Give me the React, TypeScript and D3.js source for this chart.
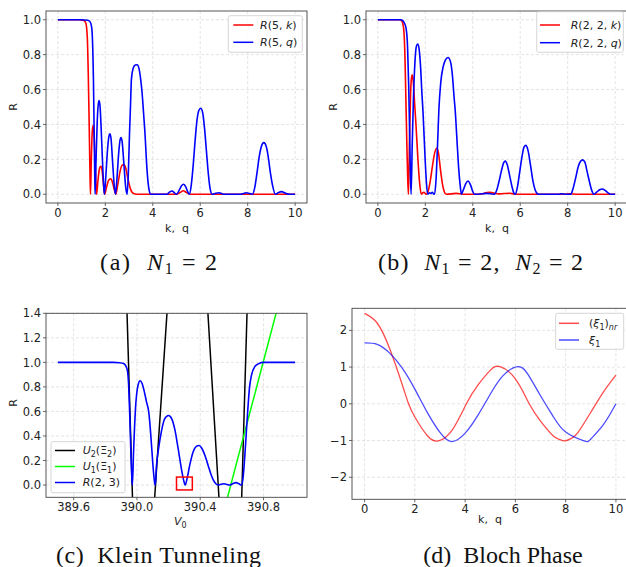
import React from "react";
import * as d3 from "d3";

type P = [number, number];

// (a) N1 = 2
const redA: P[] = [
  [0, 1], [0.9, 1], [1.1, 0.995], [1.18, 0.98], [1.24, 0.9], [1.28, 0.7], [1.32, 0.4], [1.35, 0.15], [1.375, 0],
  [1.41, 0.2], [1.45, 0.36], [1.49, 0.395], [1.53, 0.33], [1.58, 0.15], [1.63, 0],
  [1.69, 0.08], [1.75, 0.145], [1.81, 0.16], [1.87, 0.13], [1.92, 0.06], [1.97, 0],
  [2.05, 0.04], [2.14, 0.08], [2.23, 0.088], [2.31, 0.065], [2.38, 0.025], [2.44, 0],
  [2.53, 0.06], [2.62, 0.13], [2.7, 0.165], [2.78, 0.17], [2.86, 0.15], [2.95, 0.09], [3.05, 0.035], [3.17, 0.006], [3.35, 0],
  [5.0, 0], [5.15, 0.01], [5.28, 0.02], [5.42, 0.01], [5.6, 0], [10, 0],
];
const blueA: P[] = [
  [0, 1], [1.0, 1], [1.25, 0.997], [1.35, 0.99], [1.42, 0.96], [1.46, 0.88], [1.5, 0.65], [1.53, 0.35], [1.555, 0.1], [1.57, 0],
  [1.61, 0.2], [1.66, 0.42], [1.7, 0.51], [1.74, 0.537], [1.78, 0.5], [1.83, 0.36], [1.89, 0.16], [1.93, 0.05], [1.96, 0],
  [2.02, 0.1], [2.09, 0.25], [2.15, 0.33], [2.19, 0.346], [2.24, 0.32], [2.3, 0.2], [2.37, 0.06], [2.43, 0],
  [2.49, 0.09], [2.56, 0.23], [2.62, 0.31], [2.66, 0.325], [2.71, 0.3], [2.78, 0.18], [2.86, 0.04], [2.92, 0],
  [2.97, 0.12], [3.02, 0.35], [3.06, 0.5], [3.1, 0.66], [3.17, 0.72], [3.26, 0.74], [3.34, 0.742], [3.42, 0.72], [3.48, 0.67],
  [3.55, 0.58], [3.62, 0.45], [3.68, 0.33], [3.73, 0.2], [3.8, 0.07], [3.86, 0.015], [3.9, 0],
  [4.6, 0], [4.7, 0.012], [4.81, 0.019], [4.9, 0.01], [5.0, 0],
  [5.12, 0.025], [5.22, 0.05], [5.3, 0.057], [5.4, 0.04], [5.48, 0.012], [5.54, 0],
  [5.62, 0.05], [5.7, 0.16], [5.78, 0.3], [5.86, 0.42], [5.94, 0.48], [6.02, 0.493], [6.1, 0.47], [6.18, 0.38], [6.26, 0.25],
  [6.34, 0.12], [6.42, 0.03], [6.51, 0], [6.65, 0.006], [6.8, 0.009], [6.92, 0.003], [7.0, 0],
  [7.7, 0], [7.82, 0.005], [7.94, 0.009], [8.08, 0.004], [8.2, 0],
  [8.3, 0.04], [8.4, 0.13], [8.48, 0.21], [8.58, 0.275], [8.68, 0.296], [8.78, 0.275], [8.86, 0.22], [8.95, 0.13], [9.05, 0.05], [9.17, 0],
  [9.3, 0.01], [9.43, 0.015], [9.58, 0.007], [9.76, 0], [10, 0],
];

// (b) N1 = 2, N2 = 2
const redB: P[] = [
  [0, 1], [0.9, 1], [0.98, 0.997], [1.05, 0.98], [1.1, 0.93], [1.14, 0.8], [1.18, 0.55], [1.22, 0.3], [1.26, 0.08], [1.29, 0],
  [1.33, 0.3], [1.38, 0.58], [1.42, 0.67], [1.45, 0.684], [1.49, 0.65], [1.55, 0.52], [1.61, 0.39], [1.68, 0.22], [1.75, 0.08], [1.83, 0],
  [1.89, 0.008], [1.94, 0.012], [1.99, 0.005], [2.03, 0],
  [2.1, 0.01], [2.2, 0.07], [2.31, 0.17], [2.4, 0.24], [2.48, 0.264], [2.55, 0.24], [2.64, 0.14], [2.72, 0.06], [2.8, 0.015], [2.88, 0],
  [3.3, 0.005], [3.6, 0], [4.3, 0], [4.55, 0.008], [4.7, 0.012], [4.85, 0.008], [5.1, 0.002], [5.3, 0.004], [5.54, 0.006],
  [5.75, 0.002], [6.0, 0], [7.8, 0], [8.1, 0.003], [8.4, 0], [10, 0],
];
const blueB: P[] = [
  [0, 1], [0.95, 1], [1.05, 0.995], [1.12, 0.98], [1.19, 0.95], [1.25, 0.85], [1.3, 0.62], [1.34, 0.35], [1.37, 0.12], [1.4, 0],
  [1.45, 0.3], [1.5, 0.55], [1.56, 0.75], [1.62, 0.845], [1.68, 0.86], [1.74, 0.83], [1.8, 0.73], [1.86, 0.57], [1.9, 0.48],
  [1.95, 0.33], [2.0, 0.18], [2.05, 0.06], [2.1, 0],
  [2.18, 0.008], [2.24, 0.004], [2.29, 0.012], [2.34, 0.004], [2.39, 0],
  [2.45, 0.08], [2.52, 0.3], [2.57, 0.48], [2.65, 0.64], [2.75, 0.73], [2.85, 0.77], [2.96, 0.784], [3.06, 0.76], [3.15, 0.67],
  [3.21, 0.56], [3.26, 0.48], [3.33, 0.32], [3.4, 0.16], [3.47, 0.05], [3.52, 0],
  [3.6, 0.025], [3.7, 0.06], [3.8, 0.076], [3.9, 0.055], [4.0, 0.015], [4.08, 0],
  [4.4, 0.003], [4.6, 0.005], [4.8, 0.002], [4.91, 0],
  [5.0, 0.02], [5.1, 0.07], [5.2, 0.13], [5.3, 0.18], [5.37, 0.19], [5.45, 0.17], [5.55, 0.11], [5.65, 0.045], [5.73, 0.008], [5.79, 0],
  [5.88, 0.04], [5.98, 0.13], [6.08, 0.22], [6.16, 0.27], [6.24, 0.28], [6.33, 0.25], [6.43, 0.17], [6.53, 0.08], [6.63, 0.025],
  [6.72, 0.004], [6.77, 0], [7.6, 0], [7.75, 0.003], [7.9, 0], [8.13, 0],
  [8.22, 0.03], [8.33, 0.09], [8.45, 0.16], [8.55, 0.19], [8.63, 0.197], [8.72, 0.185], [8.82, 0.13], [8.92, 0.07], [9.02, 0.02], [9.1, 0],
  [9.22, 0.012], [9.35, 0.026], [9.47, 0.03], [9.58, 0.022], [9.7, 0.008], [9.82, 0], [10, 0],
];

// (c) Klein tunneling
const blueC: P[] = [
  [389.5, 1], [389.85, 1], [389.89, 0.997], [389.915, 0.99], [389.93, 0.97], [389.94, 0.93], [389.948, 0.8], [389.955, 0.55],
  [389.962, 0.25], [389.968, 0.05], [389.971, 0],
  [389.978, 0.25], [389.985, 0.48], [389.99, 0.61], [389.998, 0.74], [390.008, 0.82], [390.02, 0.85], [390.032, 0.83],
  [390.045, 0.77], [390.06, 0.68], [390.074, 0.6], [390.085, 0.45], [390.095, 0.27], [390.105, 0.1], [390.113, 0.01], [390.116, 0],
  [390.123, 0.15], [390.137, 0.3], [390.155, 0.44], [390.175, 0.54], [390.2, 0.567], [390.22, 0.54], [390.24, 0.45],
  [390.26, 0.3], [390.28, 0.14], [390.295, 0.04], [390.305, 0],
  [390.318, 0.06], [390.335, 0.17], [390.355, 0.27], [390.375, 0.315], [390.392, 0.322], [390.41, 0.3], [390.43, 0.24],
  [390.45, 0.16], [390.47, 0.08], [390.49, 0.025], [390.513, 0],
  [390.53, 0.006], [390.55, 0.01], [390.57, 0.005], [390.587, 0], [390.607, 0.012], [390.627, 0.02], [390.645, 0.01], [390.66, 0],
  [390.67, 0.05], [390.68, 0.2], [390.69, 0.4], [390.7, 0.6], [390.712, 0.8], [390.725, 0.9], [390.745, 0.965], [390.77, 0.99],
  [390.8, 1], [391, 1],
];
const blackC: P[] = [
  [389.935, 1.5], [389.974, -0.2], [390.107, -0.2], [390.195, 1.5],
  [390.444, 1.5], [390.523, -0.2], [390.66, -0.2], [390.698, 1.5],
];
const greenC: P[] = [[390.552, -0.2], [390.9, 1.5]];
const boxC = { x0: 390.25, x1: 390.35, y0: -0.04, y1: 0.065 };

// (d) Bloch phase
const redD: P[] = [
  [0, 2.46], [0.5, 2.2], [1.0, 1.5], [1.5, 0.52], [1.75, 0], [2.0, -0.36], [2.5, -0.87], [2.94, -1.01], [3.5, -0.7],
  [4.05, 0], [4.5, 0.5], [5.0, 0.91], [5.39, 1.01], [6.0, 0.68], [6.55, 0], [7.0, -0.47], [7.5, -0.87], [7.75, -0.97],
  [7.97, -1.01], [8.25, -0.93], [8.5, -0.77], [9.0, -0.23], [9.5, 0.32], [10, 0.78],
];
const blueD: P[] = [
  [0, 1.66], [0.5, 1.62], [1.0, 1.38], [1.5, 0.97], [2.0, 0.4], [2.5, -0.24], [3.0, -0.78], [3.47, -1.03], [4.0, -0.8],
  [4.5, -0.32], [5.0, 0.26], [5.5, 0.76], [6.09, 1.01], [6.5, 0.8], [7.0, 0.22], [7.5, -0.34], [8.0, -0.77], [8.73, -1.01],
  [9.0, -0.96], [9.5, -0.57], [10, 0],
];

const kTicks = [0, 2, 4, 6, 8, 10];
const rTicks = [0, 0.2, 0.4, 0.6, 0.8, 1.0];
const vTicks = [389.6, 390.0, 390.4, 390.8];
const rTicksC = [0, 0.2, 0.4, 0.6, 0.8, 1.0, 1.2, 1.4];
const phaseTicks = [-2, -1, 0, 1, 2];

const FONT = "DejaVu Sans";
const SERIF = "Liberation Serif";

type Box = { l: number; r: number; t: number; b: number };
type Series = { data: P[]; color: string; width: number; curve: d3.CurveFactory; opacity?: number };

const minus = (s: string) => s.replace("-", "\u2212");

function Panel(props: {
  id: string;
  box: Box;
  xDomain: [number, number];
  yDomain: [number, number];
  xTicks: number[];
  yTicks: number[];
  xFmt: (v: number) => string;
  yFmt: (v: number) => string;
  series: Series[];
  extra?: (x: d3.ScaleLinear<number, number>, y: d3.ScaleLinear<number, number>) => React.ReactNode;
}) {
  const { id, box, xDomain, yDomain, xTicks, yTicks, xFmt, yFmt, series, extra } = props;
  const x = d3.scaleLinear().domain(xDomain).range([box.l, box.r]);
  const y = d3.scaleLinear().domain(yDomain).range([box.b, box.t]);
  return (
    <g>
      <defs>
        <clipPath id={id}>
          <rect x={box.l} y={box.t} width={box.r - box.l} height={box.b - box.t} />
        </clipPath>
      </defs>
      {xTicks.map((t) => (
        <line key={"gx" + t} x1={x(t)} x2={x(t)} y1={box.t} y2={box.b} stroke="#d8d8d8" strokeWidth={0.7} strokeDasharray="3,2" />
      ))}
      {yTicks.map((t) => (
        <line key={"gy" + t} x1={box.l} x2={box.r} y1={y(t)} y2={y(t)} stroke="#d8d8d8" strokeWidth={0.7} strokeDasharray="3,2" />
      ))}
      <g clipPath={`url(#${id})`}>
        {series.map((s, i) => {
          const line = d3.line<P>().x((d) => x(d[0])).y((d) => y(d[1])).curve(s.curve);
          return (
            <path key={i} d={line(s.data) || ""} fill="none" stroke={s.color} strokeWidth={s.width}
              strokeOpacity={s.opacity ?? 1} strokeLinejoin="round" />
          );
        })}
        {extra && extra(x, y)}
      </g>
      <rect x={box.l} y={box.t} width={box.r - box.l} height={box.b - box.t} fill="none" stroke="#444" strokeWidth={0.9} />
      {xTicks.map((t) => (
        <g key={"tx" + t}>
          <line x1={x(t)} x2={x(t)} y1={box.b} y2={box.b + 3} stroke="#444" strokeWidth={0.8} />
          <text x={x(t)} y={box.b + 14} textAnchor="middle" fontFamily={FONT} fontSize={11.5} fill="#222">
            {xFmt(t)}
          </text>
        </g>
      ))}
      {yTicks.map((t) => (
        <g key={"ty" + t}>
          <line x1={box.l - 3} x2={box.l} y1={y(t)} y2={y(t)} stroke="#444" strokeWidth={0.8} />
          <text x={box.l - 5} y={y(t)} dy="0.36em" textAnchor="end" fontFamily={FONT} fontSize={11.5} fill="#222">
            {yFmt(t)}
          </text>
        </g>
      ))}
    </g>
  );
}

function Legend(props: {
  x: number; y: number; w: number; h: number;
  lx: number; tx: number;
  rows: { y: number; color: string; opacity?: number; label: React.ReactNode }[];
}) {
  const { x, y, w, h, lx, tx, rows } = props;
  return (
    <g>
      <rect x={x} y={y} width={w} height={h} rx={2} fill="white" fillOpacity={0.85} stroke="#cccccc" strokeWidth={0.8} />
      {rows.map((r, i) => (
        <g key={i}>
          <line x1={lx} x2={lx + 20} y1={r.y} y2={r.y} stroke={r.color} strokeOpacity={r.opacity ?? 1} strokeWidth={1.5} />
          <text x={tx} y={r.y} dy="0.35em" fontFamily={FONT} fontSize={11} fill="#222">
            {r.label}
          </text>
        </g>
      ))}
    </g>
  );
}

const It = (p: { children: React.ReactNode }) => <tspan fontStyle="italic">{p.children}</tspan>;

const f1 = d3.format(".1f");
const fInt = (v: number) => minus(String(v));

export default function App() {
  const mono = d3.curveMonotoneX;
  const boxA: Box = { l: 46, r: 307, t: 11, b: 203 };
  const boxB: Box = { l: 366, r: 627, t: 11, b: 203 };
  const boxCc: Box = { l: 46, r: 307, t: 313.3, b: 497.3 };
  const boxD: Box = { l: 352, r: 628.5, t: 308.3, b: 499.3 };

  return (
    <svg width={626} height={567} style={{ position: "absolute", left: 0, top: 0, background: "white" }}>
      <rect width={626} height={567} fill="white" />
      {/* (a) */}
      <Panel id="ca" box={boxA} xDomain={[-0.5, 10.5]} yDomain={[-0.05, 1.05]} xTicks={kTicks} yTicks={rTicks}
        xFmt={(v) => String(v)} yFmt={f1}
        series={[
          { data: redA, color: "red", width: 1.6, curve: mono },
          { data: blueA, color: "blue", width: 1.6, curve: mono },
        ]} />
      <Legend x={228.3} y={15.7} w={74} h={36.6} lx={233.3} tx={260}
        rows={[
          { y: 25, color: "red", label: <><It>R</It>(5, <It>k</It>)</> },
          { y: 42.3, color: "blue", label: <><It>R</It>(5, <It>q</It>)</> },
        ]} />
      <text x={13} y={107} transform="rotate(-90 13 107)" dy="0.35em" textAnchor="middle" fontFamily={FONT} fontSize={11} fill="#222">R</text>
      <text x={177} y={232} textAnchor="middle" fontFamily={FONT} fontSize={11} fill="#222" xmlSpace="preserve">k,  q</text>

      {/* (b) */}
      <Panel id="cb" box={boxB} xDomain={[-0.5, 10.5]} yDomain={[-0.05, 1.05]} xTicks={kTicks} yTicks={rTicks}
        xFmt={(v) => String(v)} yFmt={f1}
        series={[
          { data: redB, color: "red", width: 1.6, curve: mono },
          { data: blueB, color: "blue", width: 1.6, curve: mono },
        ]} />
      <Legend x={536.7} y={11.7} w={86.6} h={40.6} lx={540} tx={570.7}
        rows={[
          { y: 25, color: "red", label: <><It>R</It>(2, 2, <It>k</It>)</> },
          { y: 42.7, color: "blue", label: <><It>R</It>(2, 2, <It>q</It>)</> },
        ]} />
      <text x={333} y={107} transform="rotate(-90 333 107)" dy="0.35em" textAnchor="middle" fontFamily={FONT} fontSize={11} fill="#222">R</text>
      <text x={497} y={232} textAnchor="middle" fontFamily={FONT} fontSize={11} fill="#222" xmlSpace="preserve">k,  q</text>

      {/* (c) */}
      <Panel id="cc" box={boxCc} xDomain={[389.425, 391.075]} yDomain={[-0.1, 1.4]} xTicks={vTicks} yTicks={rTicksC}
        xFmt={f1} yFmt={f1}
        series={[
          { data: blackC, color: "black", width: 1.5, curve: d3.curveLinear },
          { data: greenC, color: "#00ff00", width: 1.5, curve: d3.curveLinear },
          { data: blueC, color: "blue", width: 1.6, curve: mono },
        ]}
        extra={(x, y) => (
          <rect x={x(boxC.x0)} y={y(boxC.y1)} width={x(boxC.x1) - x(boxC.x0)} height={y(boxC.y0) - y(boxC.y1)}
            fill="none" stroke="red" strokeWidth={1.5} />
        )} />
      <Legend x={51} y={441.7} w={74} h={51} lx={55} tx={82.7}
        rows={[
          { y: 450.5, color: "black", label: <><It>U</It><tspan fontSize={8} dy={3}>2</tspan><tspan dy={-3}>(Ξ</tspan><tspan fontSize={8} dy={3}>2</tspan><tspan dy={-3}>)</tspan></> },
          { y: 466.5, color: "#00ff00", label: <><It>U</It><tspan fontSize={8} dy={3}>1</tspan><tspan dy={-3}>(Ξ</tspan><tspan fontSize={8} dy={3}>1</tspan><tspan dy={-3}>)</tspan></> },
          { y: 482.5, color: "blue", label: <><It>R</It>(2, 3)</> },
        ]} />
      <text x={13} y={403} transform="rotate(-90 13 403)" dy="0.35em" textAnchor="middle" fontFamily={FONT} fontSize={11} fill="#222">R</text>
      <text x={174} y={525} fontFamily={FONT} fontSize={11} fill="#222"><It>V</It><tspan fontSize={8} dy={2.5}>0</tspan></text>

      {/* (d) */}
      <Panel id="cd" box={boxD} xDomain={[-0.5, 10.5]} yDomain={[-2.6, 2.6]} xTicks={kTicks} yTicks={phaseTicks}
        xFmt={(v) => String(v)} yFmt={fInt}
        series={[
          { data: redD, color: "red", width: 1.3, curve: d3.curveNatural, opacity: 0.7 },
          { data: blueD, color: "blue", width: 1.3, curve: d3.curveNatural, opacity: 0.7 },
        ]} />
      <Legend x={555.7} y={313.3} w={68} h={36} lx={559} tx={589}
        rows={[
          { y: 323.3, color: "red", opacity: 0.7, label: <>(<It>ξ</It><tspan fontSize={8} dy={3}>1</tspan><tspan dy={-3}>)</tspan><tspan fontSize={8} dy={3} fontStyle="italic">nr</tspan></> },
          { y: 340, color: "blue", opacity: 0.7, label: <><It>ξ</It><tspan fontSize={8} dy={3}>1</tspan></> },
        ]} />
      <text x={490} y={523} textAnchor="middle" fontFamily={FONT} fontSize={11} fill="#222" xmlSpace="preserve">k,  q</text>

      {/* captions */}
      <g fontFamily={SERIF} fontSize={24} fill="#111">
        <text x={100} y={270} xmlSpace="preserve" textLength={117} lengthAdjust="spacing">(a)  <It>N</It><tspan fontSize={16} dy={4}>1</tspan><tspan dy={-4}> = 2</tspan></text>
        <text x={378} y={270} xmlSpace="preserve" textLength={205} lengthAdjust="spacing">(b)  <It>N</It><tspan fontSize={16} dy={4}>1</tspan><tspan dy={-4}> = 2,  </tspan><It>N</It><tspan fontSize={16} dy={4}>2</tspan><tspan dy={-4}> = 2</tspan></text>
        <text x={56} y={563} xmlSpace="preserve" textLength={205} lengthAdjust="spacing">(c)  Klein Tunneling</text>
        <text x={503} y={563} xmlSpace="preserve" textAnchor="middle">(d)  Bloch Phase</text>
      </g>
    </svg>
  );
}
